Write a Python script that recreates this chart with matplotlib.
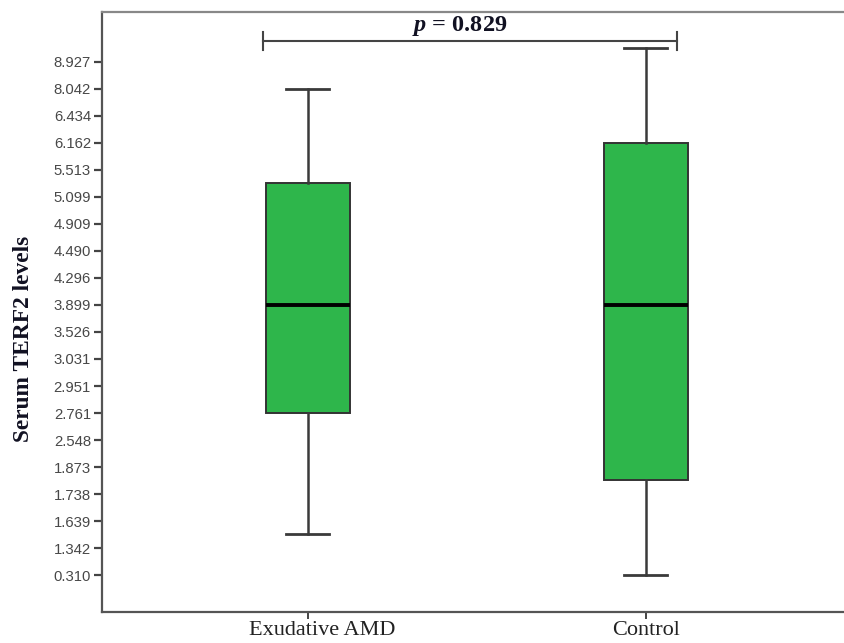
import numpy as np
import matplotlib.pyplot as plt
import matplotlib.transforms as mtransforms

plt.rcParams['mathtext.fontset'] = 'custom'
plt.rcParams['mathtext.it'] = 'Liberation Serif:italic:bold'
plt.rcParams['mathtext.rm'] = 'Liberation Serif:bold'

# axis labels shown on the rank-spaced value axis
tick_vals = [0.310, 1.342, 1.639, 1.738, 1.873, 2.548, 2.761, 2.951, 3.031, 3.526,
             3.899, 4.296, 4.490, 4.909, 5.099, 5.513, 6.162, 6.434, 8.042, 8.927]
tick_labels = ["%.3f" % v for v in tick_vals]

groups = ["Exudative AMD", "Control"]
whis_lo = [1.50, 0.310]
q1 = [2.761, 1.81]
median = [3.899, 3.899]
q3 = [5.31, 6.162]
whis_hi = [8.042, 9.39]
p_value = 0.829

tv = np.array(tick_vals)
ranks = np.arange(len(tv), dtype=float)


def forward(v):
    v = np.asarray(v, dtype=float)
    out = np.interp(v, tv, ranks)
    lo = v < tv[0]
    hi = v > tv[-1]
    out = np.where(lo, (v - tv[0]) / (tv[1] - tv[0]), out)
    out = np.where(hi, ranks[-1] + (v - tv[-1]) / (tv[-1] - tv[-2]), out)
    return out


def inverse(r):
    r = np.asarray(r, dtype=float)
    out = np.interp(r, ranks, tv)
    out = np.where(r < 0, tv[0] + r * (tv[1] - tv[0]), out)
    out = np.where(r > ranks[-1], tv[-1] + (r - ranks[-1]) * (tv[-1] - tv[-2]), out)
    return out


fig = plt.figure(figsize=(8.44, 6.43), dpi=100)
ax = fig.add_axes([0.1209, 0.0482, 0.8791, 0.9331])
ax.set_yscale('function', functions=(forward, inverse))

stats = []
for i, g in enumerate(groups):
    stats.append(dict(label=g, whislo=whis_lo[i], q1=q1[i], med=median[i],
                      q3=q3[i], whishi=whis_hi[i], fliers=[]))

ax.bxp(stats, positions=[0, 1], widths=0.25, capwidths=0.127, patch_artist=True,
       showfliers=False,
       boxprops=dict(facecolor='#2eb64b', edgecolor='#333333', linewidth=1.4),
       medianprops=dict(color='black', linewidth=2.8),
       whiskerprops=dict(color='#3a3a3a', linewidth=1.8),
       capprops=dict(color='#3a3a3a', linewidth=2.0))

ax.set_xlim(-0.609, 1.586)
ax.set_ylim(inverse(-1.37), inverse(20.85))
ax.set_yticks(tick_vals)
ax.set_yticklabels(tick_labels)
ax.yaxis.set_minor_locator(plt.NullLocator())

for lab in ax.get_yticklabels():
    lab.set_family('Liberation Sans')
    lab.set_fontsize(10.7)
    lab.set_color('#484848')
ax.tick_params(axis='y', length=6, width=1.6, color='#444444', pad=2)
ax.tick_params(axis='x', length=5, width=1.4, color='#444444', pad=1.5)
ax.set_xticks([0, 1])
ax.set_xticklabels(groups, family='Liberation Serif', fontsize=16, color='#222222')
# first category label sits a little right of its box
xl = ax.get_xticklabels()[0]
xl.set_transform(xl.get_transform() + mtransforms.ScaledTranslation(0.14, 0, fig.dpi_scale_trans))

for s in ['left', 'bottom', 'top']:
    ax.spines[s].set_color('#555555')
    ax.spines[s].set_linewidth(1.6)
ax.spines['top'].set_color('#888888')
ax.spines['right'].set_visible(False)

ax.set_ylabel('Serum TERF2 levels', family='Liberation Serif', fontweight='bold',
              fontsize=16.8, color='#111122')
ax.yaxis.set_label_coords(-0.092, 0.455)

# significance bracket between the two groups
bt = ax.get_xaxis_transform()
x0, x1, yb, dy = -0.133, 1.092, 0.9517, 0.015
ax.plot([x0, x1], [yb, yb], color='#444444', lw=1.5, transform=bt, clip_on=False)
ax.plot([x0, x0], [yb - dy, yb + dy], color='#444444', lw=1.5, transform=bt, clip_on=False)
ax.plot([x1, x1], [yb - dy, yb + dy], color='#444444', lw=1.5, transform=bt, clip_on=False)
ax.text(0.45, 0.977, r'$p$ = %.3f' % p_value, transform=bt, ha='center', va='center',
        family='Liberation Serif', fontweight='bold', fontsize=17.5, color='#111122')

fig.savefig('out.png', dpi=100)
